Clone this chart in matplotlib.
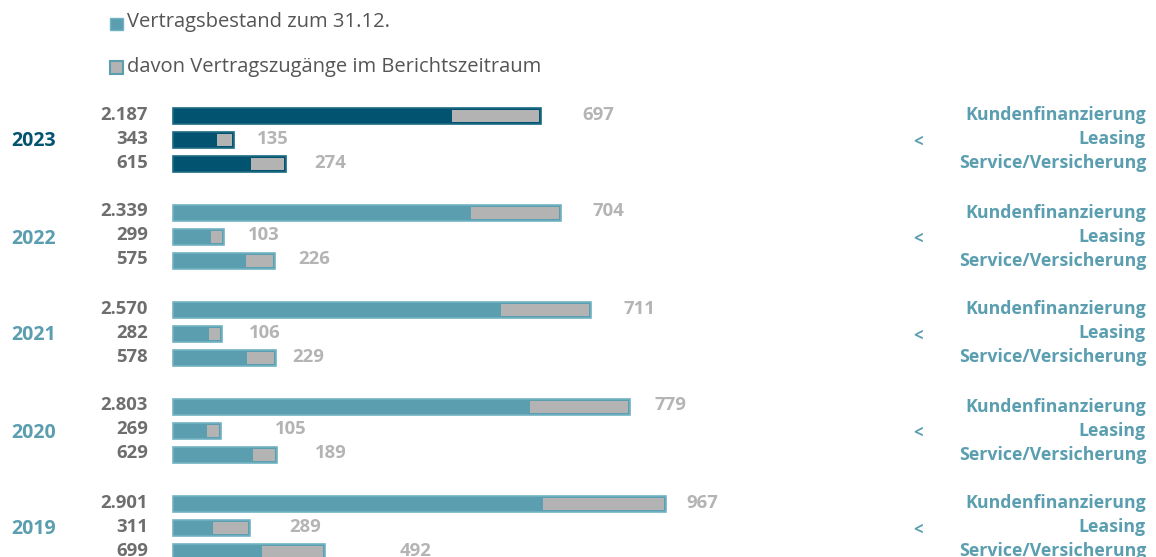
import matplotlib
matplotlib.use("Agg")
import matplotlib.pyplot as plt
from matplotlib.patches import Rectangle

plt.rcParams['font.family'] = ['Open Sans', 'DejaVu Sans']

years = ["2023", "2022", "2021", "2020", "2019"]
segments = ["Kundenfinanzierung", "Leasing", "Service/Versicherung"]
bestand = [
    [2187, 343, 615],
    [2339, 299, 575],
    [2570, 282, 578],
    [2803, 269, 629],
    [2901, 311, 699],
]
zugaenge = [
    [697, 135, 274],
    [704, 103, 226],
    [711, 106, 229],
    [779, 105, 189],
    [967, 289, 492],
]
bestand_labels = [["2.187", "343", "615"], ["2.339", "299", "575"],
                  ["2.570", "282", "578"], ["2.803", "269", "629"],
                  ["2.901", "311", "699"]]
legend_labels = ["Vertragsbestand zum 31.12.",
                 "davon Vertragszugänge im Berichtszeitraum"]

# layout (pixels)
W, H = 1156, 557
PX = 0.1275         # px per contract
X0 = 173            # bar start
label_gap = [[42, 23, 28], [32, 24, 23], [32, 26, 16], [25, 54, 38], [20, 40, 75]]

teal = "#5a9eb0"
teal_edge = "#72b3c3"
dark = "#02536f"
dark_edge = "#1d6a83"
gray = "#b3b3b3"
numcol = "#6e6e6e"
zcol = "#b4b4b4"

fig = plt.figure(figsize=(W / 100, H / 100), dpi=100)
ax = fig.add_axes([0, 0, 1, 1])
ax.set_xlim(-X0 / PX, (W - X0) / PX)
ax.set_ylim(H, 0)
ax.axis("off")

def px(x):
    return (x - X0) / PX

bar_h = 16
inset = 2
for g, year in enumerate(years):
    fc = dark if g == 0 else teal
    ec = dark_edge if g == 0 else teal_edge
    for r in range(3):
        yc = 115.5 + 97 * g + 24 * r
        b = bestand[g][r]
        z = zugaenge[g][r]
        ax.add_patch(Rectangle((0, yc - bar_h / 2), b + z, bar_h, facecolor=fc,
                               edgecolor=ec, linewidth=1.2))
        ax.add_patch(Rectangle((b, yc - bar_h / 2 + inset), z - inset / PX,
                               bar_h - 2 * inset, facecolor=gray, edgecolor="none"))
        ax.text(px(148), yc - 1, bestand_labels[g][r], ha="right", va="center",
                fontsize=13.3, fontweight="bold", color=numcol)
        ax.text(b + z + label_gap[g][r] / PX, yc - 1, str(z), ha="left", va="center",
                fontsize=13.3, fontweight="bold", color=zcol)
        ax.text(px(1146), yc, segments[r], ha="right", va="center",
                fontsize=12.8, fontweight="bold", color=teal)
    ax.text(px(11), 115.5 + 97 * g + 26, year, ha="left", va="center",
            fontsize=14, fontweight="bold", color=dark if g == 0 else teal)
    ax.text(px(918), 115.5 + 97 * g + 26, "<", ha="center", va="center",
            fontsize=12, fontweight="bold", color=teal)

# legend
ax.add_patch(Rectangle((px(110), 18), 13 / PX, 12, facecolor=teal,
                       edgecolor=teal_edge, linewidth=1))
ax.text(px(127), 22, legend_labels[0], ha="left", va="center",
        fontsize=14.5, color="#555555")
ax.add_patch(Rectangle((px(110), 61), 13 / PX, 13, facecolor=gray,
                       edgecolor=teal, linewidth=1.5))
ax.text(px(127), 67, legend_labels[1], ha="left", va="center",
        fontsize=14.5, color="#555555")

fig.savefig("out.png", dpi=100)
